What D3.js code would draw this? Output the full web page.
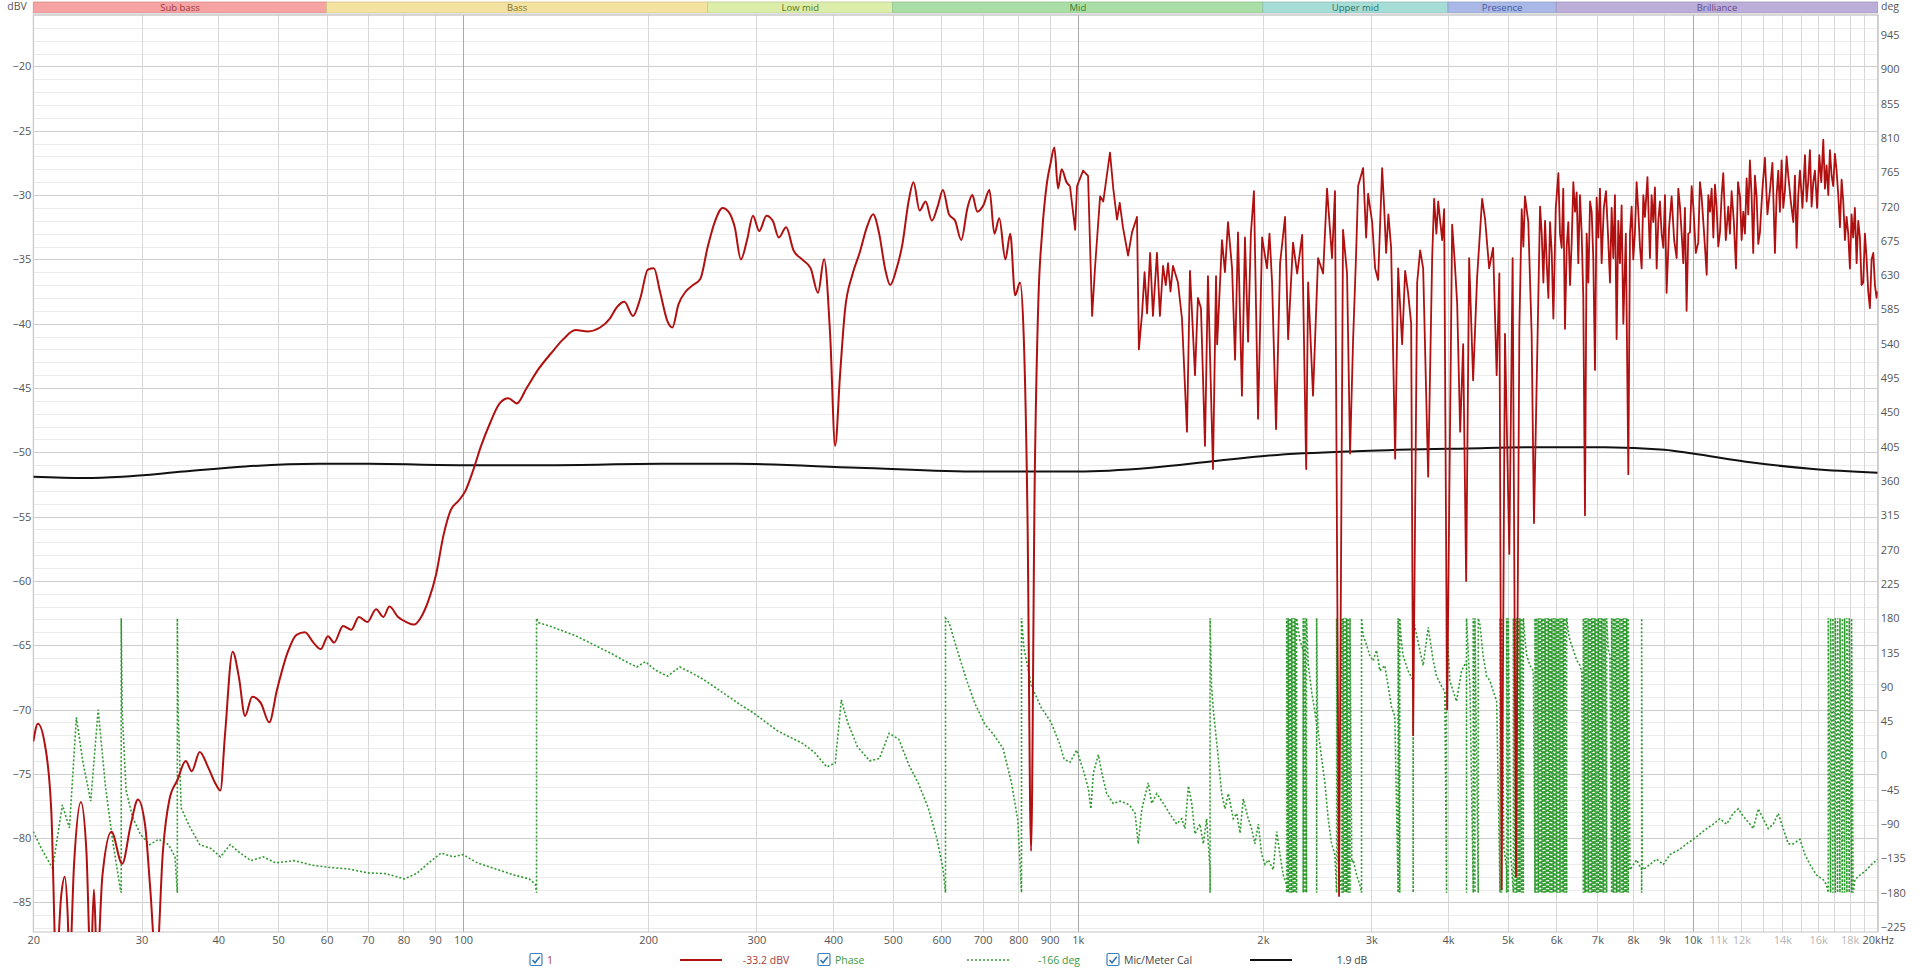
<!DOCTYPE html>
<html>
<head>
<meta charset="UTF-8" />
<title>SPL &amp; Phase</title>
<script src="https://cdnjs.cloudflare.com/ajax/libs/d3/7.8.5/d3.min.js"></script>
<style>
  body { margin: 0; background: #fff; }
  svg { display: block; font-family: "Open Sans", "Noto Sans", sans-serif; }
</style>
</head>
<body>
<script>
// frequency bands along the top
var bands = [
  { name: "Sub bass",   from: 20,   to: 60,    fill: "#f6a3a3", text: "#9b3a3a" },
  { name: "Bass",       from: 60,   to: 250,   fill: "#f4e3a0", text: "#86702e" },
  { name: "Low mid",    from: 250,  to: 500,   fill: "#dcedaa", text: "#587a22" },
  { name: "Mid",        from: 500,  to: 2000,  fill: "#a9dfa6", text: "#367f36" },
  { name: "Upper mid",  from: 2000, to: 4000,  fill: "#a6ddd7", text: "#2a746c" },
  { name: "Presence",   from: 4000, to: 6000,  fill: "#a9b8e6", text: "#45589c" },
  { name: "Brilliance", from: 6000, to: 20000, fill: "#bbaed8", text: "#634a8c" }
];

var dbTicks = [-20, -25, -30, -35, -40, -45, -50, -55, -60, -65, -70, -75, -80, -85];
var degTicks = [945, 900, 855, 810, 765, 720, 675, 630, 585, 540, 495, 450, 405, 360, 315, 270, 225, 180, 135, 90, 45, 0, -45, -90, -135, -180, -225];
var freqGrid = [20,30,40,50,60,70,80,90,100,200,300,400,500,600,700,800,900,1000,2000,3000,4000,5000,6000,7000,8000,9000,10000,11000,12000,13000,14000,15000,16000,17000,18000,19000,20000];
var freqTicks = [20,30,40,50,60,70,80,90,100,200,300,400,500,600,700,800,900,1000,2000,3000,4000,5000,6000,7000,8000,9000,10000,11000,12000,14000,16000,18000,20000];
var freqLabels = ["20","30","40","50","60","70","80","90","100","200","300","400","500","600","700","800","900","1k","2k","3k","4k","5k","6k","7k","8k","9k","10k","11k","12k","14k","16k","18k","20kHz"];

// measurement "1" (dBV)
var spl = [
  [20,-72.5],[20.35,-71.1],[20.9,-72.8],[21.4,-78],[21.8,-90],[22.2,-84.5],[22.5,-83],[22.75,-86],[22.9,-90],[23.3,-82],[23.9,-77.2],[24.4,-81],[24.8,-90],[25.1,-84],[25.4,-90],[25.9,-83],[26.8,-79.5],[27.9,-82],[28.8,-79],[29.6,-77],[30.4,-79],[31.0,-84],[31.7,-90],[32.5,-81],
  [33.3,-77],[34.3,-75.5],[35.4,-74],[36.2,-74.8],[37.3,-73.3],[38.5,-74.5],[39.6,-75.8],[40.3,-76.3],[41.0,-72],[42.2,-65.5],[43.2,-67.5],[44.2,-70.5],[45.4,-69],[46.9,-69.5],[48.4,-71],[49.8,-68.5],
  [51.9,-65.5],[53.6,-64.2],[55.3,-64],[57.1,-64.8],[58.7,-65.3],[60.3,-64.3],[61.7,-64.8],[63.8,-63.5],[65.8,-63.8],[67.7,-62.8],[69.9,-63.2],[72.2,-62.2],[74.2,-62.8],[75.9,-62],[78.4,-62.8],[80.9,-63.2],[83.2,-63.4],[85.5,-62.8],[87.9,-61.5],
  [90.4,-59.5],[92.9,-56.5],[95.5,-54.5],[98.2,-53.8],[100.9,-53],[103.7,-51.5],[107,-49.5],[110.5,-47.8],[114.7,-46.2],[118.5,-45.8],[122.3,-46.2],[126.9,-45],[132.8,-43.5],[139.1,-42.3],[145.6,-41.2],[152.4,-40.5],[159.6,-40.6],[167.1,-40.3],[173.3,-39.6],[178.1,-38.7],[183,-38.3],[189,-39.4],[194.3,-38],[199.8,-35.8],[204.4,-35.7],[209.1,-37.5],[215,-39.8],[219,-40.3],[224.1,-38.5],[230.3,-37.5],[236.7,-37],[243.3,-36.5],
  [250.1,-34],[257.1,-32],[264.3,-31],[270.4,-31.3],[276.7,-32.5],[283.1,-35],[289.7,-33.5],[296.2,-31.6],[303.2,-32.8],[311.6,-31.6],[319,-32],[326.3,-33.3],[335.4,-32.5],[344.8,-34.3],[356,-35],[367.7,-35.7],[377.9,-37.6],[386.6,-35],[395.6,-41],[403,-49.5],[410.4,-44],[418,-39],[429.8,-36.2],[441.6,-34.5],[453.9,-32.5],[464.5,-31.5],[475.2,-33],[486.2,-35.8],[495.2,-37],
  [506.6,-35.8],[518.5,-33.8],[530.5,-30.5],[540.4,-29],[552.9,-31.2],[565.6,-30.5],[578.8,-32],[592.3,-30.8],[603.3,-29.6],[617.2,-31.5],[631.6,-32],[646.2,-33.5],[661.4,-31],[673.6,-30],[686.1,-31.3],[702,-30.8],[718.2,-29.6],[731.5,-33],[745.1,-31.8],[762.3,-35],[776.4,-33],[790.7,-37.8],[805.4,-36.8],[816.6,-41],[828.2,-55],[839.3,-81],[851,-52],[862.9,-38],[874.6,-33],[891.1,-29],[903.2,-27.5],[915.8,-26.3],[928.6,-29.5],[941.2,-28],[958.7,-29],
  [971,-29.3],[990,-32.7],[997,-29.3],[1020,-28.1],[1039,-28.5],[1055,-39.4],[1067,-35.5],[1087,-30.1],[1100,-30.5],[1128,-26.7],[1142,-29.5],[1158,-31.9],[1170,-30.6],[1184,-32.5],[1207,-34.7],[1225,-32.9],[1248,-31.7],[1257,-42],[1272,-39.2],[1284,-36],[1296,-39.2],[1311,-34.5],[1325,-39.4],[1345,-34.5],[1360,-39.4],[1376,-35.5],[1390,-37],[1402,-35.3],[1415,-37.5],[1428,-35.5],[1455,-36.8],[1477,-39.6],[1505,-48.4],[1522,-35.9],[1551,-44],[1568,-38],[1586,-38.8],[1610,-49.5],[1628,-36.3],[1659,-51.3],[1678,-36.3],[1685,-41.6],[1716,-33.5],[1735,-36],[1755,-32.1],[1782,-35.7],[1802,-42.8],[1822,-32.9],[1849,-45.6],[1870,-33.3],[1892,-41.4],[1912,-33],[1934,-29.7],[1964,-47.4],[1994,-33.3],
  [2031,-35.7],[2050,-33],[2070,-36.8],[2101,-48.2],[2133,-35.3],[2173,-31.7],[2198,-41.2],[2239,-33.7],[2274,-36.1],[2317,-33.1],[2352,-51.3],[2369,-36.8],[2413,-45.6],[2459,-34.9],[2506,-36.1],[2543,-29.5],[2591,-34.9],[2620,-29.7],[2660,-84.5],[2700,-32.7],[2741,-36.1],[2772,-50.1],[2804,-41.2],[2835,-34.7],[2857,-29.3],[2911,-27.9],[2944,-33.3],[2966,-29.9],
  [3011,-32.1],[3045,-35.7],[3079,-36.6],[3126,-27.9],[3150,-31],[3173,-34.5],[3200,-31.5],[3233,-34.1],[3282,-50.5],[3319,-35.7],[3369,-41.6],[3407,-35.9],[3445,-37.6],[3485,-40],[3511,-72],[3564,-36.8],[3604,-34.3],[3645,-35.7],[3714,-51.9],[3770,-34.9],[3798,-30.3],[3830,-33],[3856,-30.5],[3914,-33.5],[3943,-31.1],[3987,-70],
  [4063,-32.3],[4100,-35],[4140,-38.4],[4187,-48.4],[4234,-41.6],[4282,-60],[4330,-34.9],[4395,-44.4],[4461,-36.4],[4546,-30.3],[4597,-31.9],[4667,-35.7],[4737,-34.1],[4800,-44],[4849,-36.1],[4891,-84],[4952,-40.8],
  [5033,-57.9],[5096,-34.9],[5161,-83],[5226,-40.4],[5272,-31.1],[5305,-34],[5337,-30.1],[5404,-32.1],[5472,-40.8],[5520,-55.5],[5590,-42],[5647,-30.9],[5683,-33],[5718,-36.8],[5754,-32],[5790,-35.3],[5826,-38],[5862,-32.1],[5900,-34.5],[5936,-39.6],
  [5990,-31],[6048,-28.3],[6085,-33],[6124,-34.1],[6160,-29.5],[6200,-40.4],[6240,-34],[6278,-32.1],[6318,-37],[6357,-33.7],[6397,-29],[6437,-31.3],[6477,-29.8],[6517,-35.3],[6558,-30],[6599,-32.9],[6640,-38],[6682,-54.9],[6724,-33],[6767,-36.8],[6810,-30.5],[6852,-31.3],[6894,-35],[6937,-43.6],[6980,-30.2],[7024,-33.3],[7068,-29.5],[7112,-35.3],[7170,-31],[7229,-29.7],[7283,-33],[7338,-36.8],[7384,-31],[7430,-34.9],[7476,-30],[7523,-41.2],[7570,-32],[7617,-35.3],[7665,-30.8],[7714,-40],[7787,-33],[7860,-51.7],[7909,-33],[7958,-30.9],
  [8007,-35],[8057,-32.9],[8108,-29],[8160,-31.3],[8210,-34],[8262,-35.7],[8314,-30],[8365,-31.7],[8444,-28.6],[8523,-34.9],[8576,-30],[8629,-32.1],[8684,-29.4],[8740,-35.7],[8794,-32],[8848,-30.5],[8904,-33],[8961,-34.1],[9016,-30],[9071,-37.6],[9157,-32.5],[9244,-30.1],[9331,-33.5],[9419,-34.9],[9478,-29.5],[9537,-30.9],[9597,-33],[9657,-35.3],[9716,-31],[9776,-39],[9839,-33],[9902,-32.9],[9964,-29.3],
  [10027,-30.9],[10120,-34.5],[10213,-33.7],[10277,-29],[10341,-30.1],[10440,-33],[10541,-36.2],[10605,-30],[10670,-31.3],[10738,-29.5],[10807,-33.3],[10873,-29.2],[10939,-30.9],[11009,-34],[11079,-32.9],[11148,-30],[11217,-28.3],[11323,-33.5],[11429,-30.9],[11500,-33],[11572,-29.7],[11667,-32],[11763,-35.7],[11852,-29],[11941,-30.1],[12015,-33.5],[12089,-31.3],[12165,-33],[12242,-28.7],[12317,-31.5],[12393,-27.3],[12470,-30],[12548,-34.5],[12628,-28.5],[12708,-30.1],[12787,-33.8],[12867,-32.9],[12988,-29.5],
  [13110,-27.1],[13233,-31.5],[13356,-29.7],[13483,-27.5],[13611,-34.5],[13696,-30],[13782,-28.1],[13868,-31.3],[13954,-27.3],[14041,-31],[14129,-29.7],[14219,-27],[14309,-28.5],[14444,-30.5],[14579,-32.1],[14670,-28.5],[14761,-34.1],[14854,-30],[14947,-28.1],[15089,-31],[15232,-26.9],[15326,-30.5],[15421,-28.9],[15517,-26.5],[15614,-30.9],[15712,-29],[15810,-28.1],[15940,-31],
  [16070,-26.9],[16190,-29],[16312,-25.7],[16414,-29.5],[16516,-27.7],[16620,-30],[16724,-26.5],[16828,-28.5],[16933,-29.3],[17039,-26.8],[17145,-28.1],[17254,-30],[17363,-32.5],[17471,-28.8],[17580,-30.5],[17690,-33.5],[17800,-31.7],[17911,-33],[18023,-35.7],[18134,-31.5],[18246,-33.3],[18363,-31],[18481,-35.3],[18595,-32],[18710,-33.3],[18828,-37],[18947,-36.8],[19065,-33],[19183,-34.9],[19303,-37.5],[19424,-38.8],[19548,-35],[19672,-34.5],[19793,-37],[19915,-38],[20000,-37.5]
];

// phase of measurement "1" (deg), wraps written as -180 / 180 pairs
var phase = [
  [20,-100],[20.7,-125],[21.5,-148],[22.3,-65],[22.9,-95],[23.5,50],[24.1,-10],[24.8,-60],[25.5,60],[26.2,-40],[26.9,-110],[27.7,-175],[27.8,-180],[27.8,180],[27.9,60],[28.3,-45],[29.0,-81],[29.9,-104],[30.9,-117],[32.0,-110],[33.2,-117],[34.0,-133],[34.3,-180],[34.3,180],[34.4,60],
  [34.8,-69],[35.9,-93],[37.3,-117],[38.9,-122],[40.3,-133],[41.8,-117],[43.4,-128],[45.2,-138],[47.3,-133],[49.6,-141],[53.1,-138],[56.9,-144],[60.9,-147],[65.2,-149],[69.9,-154],[74.9,-155],[80.2,-162],[84,-155],[87.9,-141],[92.1,-128],[96.4,-133],[100,-130],[105.6,-141],[113.1,-149],[121.2,-157],[128.1,-162],[131.1,-169],[131.7,-180],[131.7,180],
  [132.8,174],[139.1,169],[145.6,163],[152.4,157],[159.6,149],[167.1,141],[174.9,133],[183.1,124],[191.7,116],[198,123],[205.4,112],[215.1,104],[225.2,116],[235.8,108],[246.8,99],[258.4,88],[270.5,77],[283.2,66],[296.5,56],[310.4,44],[325,32],[340.3,24],[356.2,16],[372.9,4],[390.4,-15],[403.1,-10],[412.4,73],[422,44],[437.8,12],[458.4,-7],[475.5,-4],[493.3,29],[511.7,21],[530.8,-12],[550.6,-37],[571.2,-69],[589.9,-109],[603.6,-149],[609.2,-180],[609.2,180],
  [617.6,174],[634.9,141],[658.6,100],[680.2,68],[705.6,41],[728.7,28],[755.9,9],[780.5,-37],[798.7,-85],[809.8,-180],[809.8,180],[817.3,141],[840,92],[871.4,63],[903.9,44],[933.3,16],[950,-5],
  [971,-9],[996,7],[1021,-20],[1040,-43],[1050,-70],[1060,-23],[1080,1],[1094,-23],[1114,-50],[1142,-63],[1171,-60],[1201,-63],[1216,-66],[1239,-76],[1254,-116],[1271,-70],[1302,-36],[1319,-63],[1344,-50],[1378,-63],[1412,-77],[1448,-90],[1476,-83],[1494,-96],[1513,-40],[1532,-63],[1551,-103],[1580,-90],[1600,-116],[1620,-83],[1641,-150],[1641,-180],[1641,180],
  [1650,90],[1661,60],[1692,-3],[1714,-50],[1735,-70],[1757,-50],[1790,-83],[1813,-76],[1836,-102],[1858,-57],[1893,-83],[1917,-96],[1941,-116],[1966,-90],[1991,-130],[2016,-143],[2041,-137],[2079,-150],[2106,-100],[2132,-130],[2158,-157],[2186,-170],
  [2186,-180],[2186,180],[2199,-180],[2199,180],[2213,-180],[2213,180],[2227,-180],[2227,180],[2241,-180],[2241,180],[2255,-180],[2255,180],[2269,-180],[2269,180],
  [2297,151],[2326,138],[2326,-180],[2326,180],[2341,-180],[2341,180],[2355,-180],[2355,180],[2370,120],[2400,84],[2430,57],[2446,40],[2446,-180],[2446,180],[2453,60],[2460,31],[2491,-3],[2523,-36],[2554,-83],[2587,-116],[2619,-130],[2636,-180],[2636,180],[2650,-135],
  [2686,-180],[2686,180],[2702,-180],[2702,180],[2720,-180],[2720,180],[2737,-180],[2737,180],[2753,-180],[2753,180],[2771,-180],[2771,180],[2790,-140],[2805,-137],[2841,-157],[2876,-170],[2894,-180],[2894,180],
  [2911,158],[2948,145],[2985,131],[3023,124],[3061,138],[3099,111],[3157,118],[3197,91],[3237,64],[3278,51],[3319,-180],[3319,180],[3339,-180],[3339,180],[3360,150],[3381,131],[3445,111],[3511,98],[3511,-180],[3511,180],[3556,158],[3600,138],[3645,118],[3714,168],[3784,125],[3832,104],[3904,91],[3953,84],[3979,-180],[3979,180],
  [4028,98],[4130,71],[4209,111],[4288,124],[4288,-180],[4288,180],[4343,91],[4397,-180],[4397,180],[4425,-180],[4425,180],[4480,-180],[4480,180],[4510,171],[4563,131],[4622,104],[4680,98],[4740,84],[4800,71],
  [4861,-180],[4861,180],[4891,-180],[4891,180],[4930,-120],[4983,-150],[4983,-180],[4983,180],[5014,-180],[5014,180],[5060,-130],[5110,-180],[5110,180],[5142,-180],[5142,180],[5174,-180],[5174,180],[5206,-180],[5206,180],[5238,-180],[5238,180],[5272,-180],[5272,180],[5305,-180],[5305,180],
  [5340,150],[5372,131],[5439,118],[5507,111],
  [5542,-180],[5542,180],[5576,-180],[5576,180],[5612,-180],[5612,180],[5647,-180],[5647,180],[5683,-180],[5683,180],[5718,-180],[5718,180],[5754,-180],[5754,180],[5790,-180],[5790,180],[5826,-180],[5826,180],[5862,-180],[5862,180],[5899,-180],[5899,180],[5936,-180],[5936,180],[5973,-180],[5973,180],[6010,-180],[6010,180],[6048,-180],[6048,180],[6086,-180],[6086,180],[6124,-180],[6124,180],[6162,-180],[6162,180],[6200,-180],[6200,180],[6239,-180],[6239,180],
  [6280,160],[6317,151],[6398,138],[6478,125],[6559,118],[6600,110],
  [6640,-180],[6640,180],[6682,-180],[6682,180],[6723,-180],[6723,180],[6767,-180],[6767,180],[6809,-180],[6809,180],[6852,-180],[6852,180],[6894,-180],[6894,180],[6937,-180],[6937,180],[6981,-180],[6981,180],[7024,-180],[7024,180],[7068,-180],[7068,180],[7112,-180],[7112,180],[7157,-180],[7157,180],[7202,-180],[7202,180],[7247,-180],[7247,180],
  [7290,140],[7338,131],
  [7384,-180],[7384,180],[7430,-180],[7430,180],[7476,-180],[7476,180],[7523,-180],[7523,180],[7570,-180],[7570,180],[7617,-180],[7617,180],[7667,-180],[7667,180],[7714,-180],[7714,180],[7762,-180],[7762,180],[7811,-180],[7811,180],[7860,-180],[7860,180],
  [7909,-150],[8108,-137],[8262,-150],[8262,-180],[8262,180],[8280,-145],[8314,-150],[8523,-143],[8740,-136],[8961,-143],[9187,-130],[9537,-123],[9776,-116],[10027,-110],[10280,-103],[10541,-96],[10807,-90],[11079,-83],[11358,-90],[11643,-76],[11865,-70],[12089,-80],[12393,-90],[12548,-96],[12787,-70],[13028,-83],[13273,-96],[13526,-90],[13782,-76],[14041,-96],[14309,-116],[14579,-116],[14947,-110],[15232,-130],[15518,-143],[15909,-157],[16312,-163],[16516,-170],
  [16619,-180],[16619,180],[16766,-180],[16766,180],[16911,-180],[16911,180],[17060,-180],[17060,180],[17210,-180],[17210,180],[17363,-180],[17363,180],[17515,-180],[17515,180],[17668,-180],[17668,180],[17820,-180],[17820,180],[17977,-180],[17977,180],[18136,-180],[18136,180],[18246,-180],
  [18365,-163],[18710,-157],[19183,-150],[19549,-143],[20000,-136]
];

// Mic/Meter Cal (dB, drawn on the dBV scale)
var cal = [
  [20,-51.9],[24.3,-52.0],[27.9,-51.9],[35.1,-51.5],[44.2,-51.1],[58.2,-50.9],[69.9,-50.9],[100,-51.0],[139,-51.0],[210,-50.9],[277,-50.9],[438,-51.2],[693,-51.5],[1000,-51.5],[1316,-51.2],[1656,-50.7],[1989,-50.3],[2900,-49.9],[4300,-49.7],[5700,-49.6],[7200,-49.6],[9000,-49.8],[10000,-50.1],[12500,-50.8],[15700,-51.3],[20000,-51.6]
];

var legendItems = [
  { label: "1",             value: "-33.2 dBV", color: "#b01010", dash: null,  textColor: "#a83a3a" },
  { label: "Phase",         value: "-166 deg",  color: "#2f9a2f", dash: "2,2", textColor: "#3d9a3d" },
  { label: "Mic/Meter Cal", value: "1.9 dB",    color: "#111111", dash: null,  textColor: "#444444" }
];

var W = 1920, H = 972;
var L = 33.3, R = 1877.7, T = 15, B = 932;

var x = d3.scaleLog().domain([20, 20000]).range([L, R]);
var yDb = d3.scaleLinear().domain([-87.3, -16]).range([B, T]);
var yDeg = d3.scaleLinear().domain([-231.6, 971.2]).range([B, T]);

var svg = d3.select("body").append("svg")
  .attr("width", W)
  .attr("height", H);

svg.append("defs").append("clipPath").attr("id", "plot")
  .append("rect").attr("x", L).attr("y", T).attr("width", R - L).attr("height", B - T);

// band strip
var strip = svg.append("g");
strip.selectAll("rect").data(bands).enter().append("rect")
  .attr("x", function(d) { return x(d.from); })
  .attr("y", 2)
  .attr("width", function(d) { return x(d.to) - x(d.from); })
  .attr("height", 11)
  .attr("fill", function(d) { return d.fill; })
  .attr("stroke", function(d) { return d3.color(d.fill).darker(0.4); })
  .attr("stroke-width", 0.8);
strip.selectAll("text").data(bands).enter().append("text")
  .attr("x", function(d) { return (x(d.from) + x(d.to)) / 2; })
  .attr("y", 11)
  .attr("text-anchor", "middle")
  .attr("font-size", 9.5)
  .attr("fill", function(d) { return d.text; })
  .text(function(d) { return d.name; });

svg.append("rect").attr("x", L).attr("y", 13).attr("width", R - L).attr("height", 2).attr("fill", "#e4e4e4");

// grid
var grid = svg.append("g");
var minor = d3.range(-87, -15, 1).filter(function(v) { return v % 5 !== 0; });
grid.selectAll(".hmin").data(minor).enter().append("line")
  .attr("x1", L).attr("x2", R)
  .attr("y1", function(d) { return Math.round(yDb(d)) + 0.5; })
  .attr("y2", function(d) { return Math.round(yDb(d)) + 0.5; })
  .attr("stroke", "#ececec");
grid.selectAll(".hmaj").data(dbTicks).enter().append("line")
  .attr("x1", L).attr("x2", R)
  .attr("y1", function(d) { return Math.round(yDb(d)) + 0.5; })
  .attr("y2", function(d) { return Math.round(yDb(d)) + 0.5; })
  .attr("stroke", "#cdcdcd");
grid.selectAll(".v").data(freqGrid).enter().append("line")
  .attr("x1", function(d) { return Math.round(x(d)) + 0.5; })
  .attr("x2", function(d) { return Math.round(x(d)) + 0.5; })
  .attr("y1", T).attr("y2", B)
  .attr("stroke", function(d) { return (d === 100 || d === 1000 || d === 10000) ? "#a9a9a9" : "#d7d7d7"; });

svg.append("rect").attr("x", L).attr("y", T).attr("width", R - L).attr("height", B - T)
  .attr("fill", "none").attr("stroke", "#c4c4c4");

// axes
var axL = svg.append("g").attr("transform", "translate(" + (L - 2) + ",0)")
  .call(d3.axisLeft(yDb).tickValues(dbTicks).tickSize(0).tickPadding(0));
var axR = svg.append("g").attr("transform", "translate(" + (R + 3) + ",0)")
  .call(d3.axisRight(yDeg).tickValues(degTicks).tickSize(0).tickPadding(0));
var axB = svg.append("g").attr("transform", "translate(0," + B + ")")
  .call(d3.axisBottom(x).tickValues(freqTicks).tickSize(0).tickPadding(4)
    .tickFormat(function(d, i) { return freqLabels[i]; }));
[axL, axR, axB].forEach(function(a) {
  a.select(".domain").remove();
  a.selectAll("text").attr("font-size", 11).attr("fill", "#555")
    .attr("font-family", "'Open Sans', 'Noto Sans', sans-serif");
});
axB.selectAll("text").attr("fill", function(d) { return (d > 10000 && d < 20000) ? "#b5b5b5" : "#555"; });

svg.append("text").attr("x", 17).attr("y", 10).attr("text-anchor", "middle")
  .attr("font-size", 10.5).attr("fill", "#555").text("dBV");
svg.append("text").attr("x", 1881).attr("y", 10)
  .attr("font-size", 10.5).attr("fill", "#555").text("deg");

// curves
var plot = svg.append("g").attr("clip-path", "url(#plot)");

plot.append("path").datum(cal)
  .attr("fill", "none").attr("stroke", "#111").attr("stroke-width", 2)
  .attr("d", d3.line().x(function(d) { return x(d[0]); }).y(function(d) { return yDb(d[1]); }).curve(d3.curveMonotoneX));

plot.append("path").datum(phase)
  .attr("fill", "none").attr("stroke", "#2f9a2f").attr("stroke-width", 1.6)
  .attr("stroke-dasharray", "2,2")
  .attr("d", d3.line().x(function(d) { return x(d[0]); }).y(function(d) { return yDeg(d[1]); }));

// smooth below 1 kHz, raw above
var splLine = d3.line().x(function(d) { return x(d[0]); }).y(function(d) { return yDb(d[1]); });
plot.append("path").datum(spl.filter(function(d) { return d[0] <= 971; }))
  .attr("fill", "none").attr("stroke", "#b01010").attr("stroke-width", 2)
  .attr("d", splLine.curve(d3.curveMonotoneX));
plot.append("path").datum(spl.filter(function(d) { return d[0] >= 971; }))
  .attr("fill", "none").attr("stroke", "#b01010").attr("stroke-width", 1.8)
  .attr("stroke-linejoin", "round")
  .attr("d", splLine.curve(d3.curveLinear));

// legend
var legendX = [536, 824, 1113];
var lineX = [680, 967, 1250];
var valueX = [766, 1059, 1352];
var ly = 960;
var leg = svg.append("g");
legendItems.forEach(function(d, i) {
  var g = leg.append("g");
  g.append("rect").attr("x", legendX[i] - 6).attr("y", ly - 6.5).attr("width", 12).attr("height", 12)
    .attr("rx", 1.5).attr("fill", "#fff").attr("stroke", "#3d7fc1").attr("stroke-width", 1.2);
  g.append("path").attr("d", "M" + (legendX[i] - 3.5) + "," + ly + " l2.5,2.8 l4.8,-6")
    .attr("fill", "none").attr("stroke", "#2d6fb3").attr("stroke-width", 1.5);
  g.append("text").attr("x", legendX[i] + 11).attr("y", ly + 4)
    .attr("font-size", 10.5).attr("fill", d.textColor).text(d.label);
  g.append("line").attr("x1", lineX[i]).attr("x2", lineX[i] + 42).attr("y1", ly).attr("y2", ly)
    .attr("stroke", d.color).attr("stroke-width", d.dash ? 1.4 : 2.2)
    .attr("stroke-dasharray", d.dash);
  g.append("text").attr("x", valueX[i]).attr("y", ly + 4).attr("text-anchor", "middle")
    .attr("font-size", 10.5).attr("fill", d.textColor).text(d.value);
});
</script>
</body>
</html>
